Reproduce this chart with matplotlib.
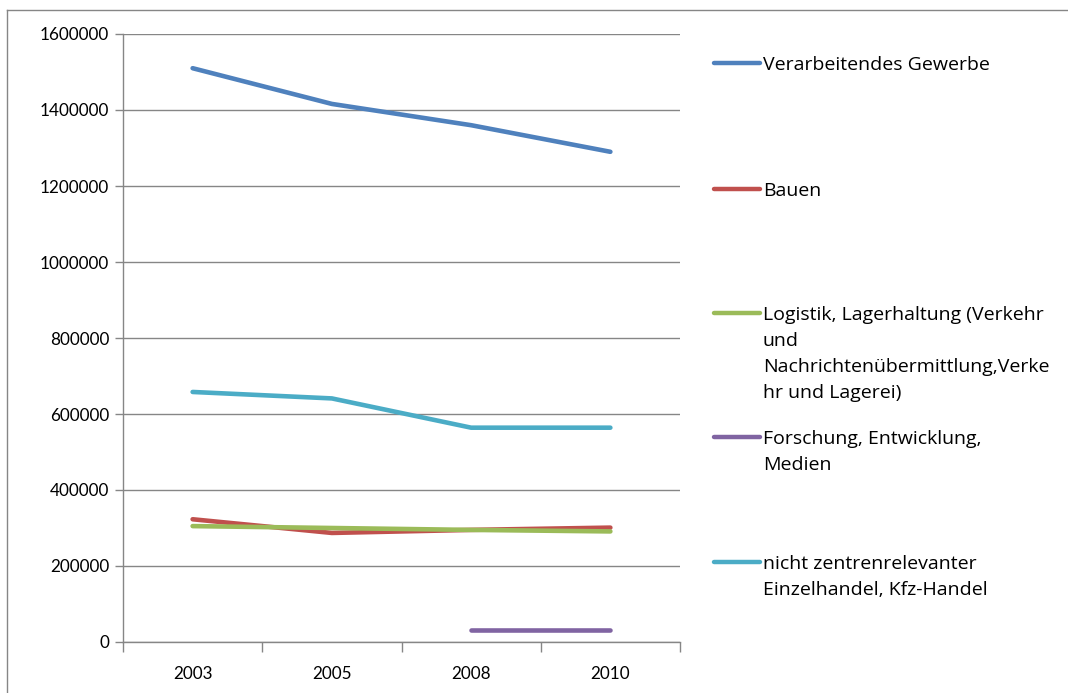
import matplotlib
matplotlib.use("Agg")
import matplotlib.pyplot as plt
from matplotlib.lines import Line2D
import numpy as np

years = ["2003", "2005", "2008", "2010"]
verarbeitendes = [1510000, 1416000, 1360000, 1290000]
bauen = [323000, 287000, 295000, 301000]
logistik = [305000, 300000, 295000, 291000]
forschung = [np.nan, np.nan, 31000, 31000]
einzelhandel = [658000, 641000, 564000, 564000]

labels = [
    "Verarbeitendes Gewerbe",
    "Bauen",
    "Logistik, Lagerhaltung (Verkehr\nund\nNachrichtenübermittlung,Verke\nhr und Lagerei)",
    "Forschung, Entwicklung,\nMedien",
    "nicht zentrenrelevanter\nEinzelhandel, Kfz-Handel",
]
colors = ["#4F81BD", "#C0504D", "#9BBB59", "#8064A2", "#4BACC6"]
series = [verarbeitendes, bauen, logistik, forschung, einzelhandel]
yticks = [0, 200000, 400000, 600000, 800000, 1000000, 1200000, 1400000, 1600000]

plt.rcParams["font.family"] = ["Lato", "DejaVu Sans"]
W, H = 1068, 693
fig = plt.figure(figsize=(W / 100, H / 100), dpi=100)
ax = fig.add_axes([123 / W, 1 - 642 / H, (680 - 123) / W, (642 - 34) / H])

grid = "#868686"
x = np.arange(len(years))
for s, c, l in zip(series, colors, labels):
    ax.plot(x, s, color=c, lw=3.3, solid_capstyle="round", solid_joinstyle="round", label=l, zorder=3)

ax.set_xlim(-0.5, len(years) - 0.5)
ax.set_ylim(0, 1600000)
ax.set_yticks(yticks)
ax.set_yticklabels([str(v) for v in yticks], fontsize=12.3)
ax.set_xticks(x)
ax.set_xticklabels(years, fontsize=12.3)
ax.set_xticks(np.arange(-0.5, len(years), 1), minor=True)
ax.tick_params(axis="x", which="major", length=0, pad=17)
ax.tick_params(axis="x", which="minor", length=7, color=grid, width=1)
ax.tick_params(axis="y", length=6, color=grid, width=1, pad=4)
ax.yaxis.grid(True, color=grid, lw=1)
ax.set_axisbelow(True)
for sp in ["top", "right"]:
    ax.spines[sp].set_visible(False)
for sp in ["left", "bottom"]:
    ax.spines[sp].set_color(grid)
    ax.spines[sp].set_linewidth(1)

# legend (manual, Excel-like spacing)
leg_y = [63, 189, 313, 437, 562]
for yy, c, l in zip(leg_y, colors, labels):
    fig.add_artist(Line2D([714 / W, 760 / W], [1 - yy / H, 1 - yy / H], color=c, lw=3.2,
                          solid_capstyle="round"))
    fig.text(763 / W, 1 - (yy - 7) / H, l, fontsize=14, va="top", ha="left", linespacing=1.58,
             family=["Open Sans", "DejaVu Sans"])

# chart-area border (only left and top edges fall inside the image)
fig.add_artist(Line2D([7 / W, 1.0], [1 - 9.5 / H, 1 - 9.5 / H], color=grid, lw=1))
fig.add_artist(Line2D([7 / W, 7 / W], [0, 1 - 9.5 / H], color=grid, lw=1))

fig.savefig("out.png", dpi=100)
